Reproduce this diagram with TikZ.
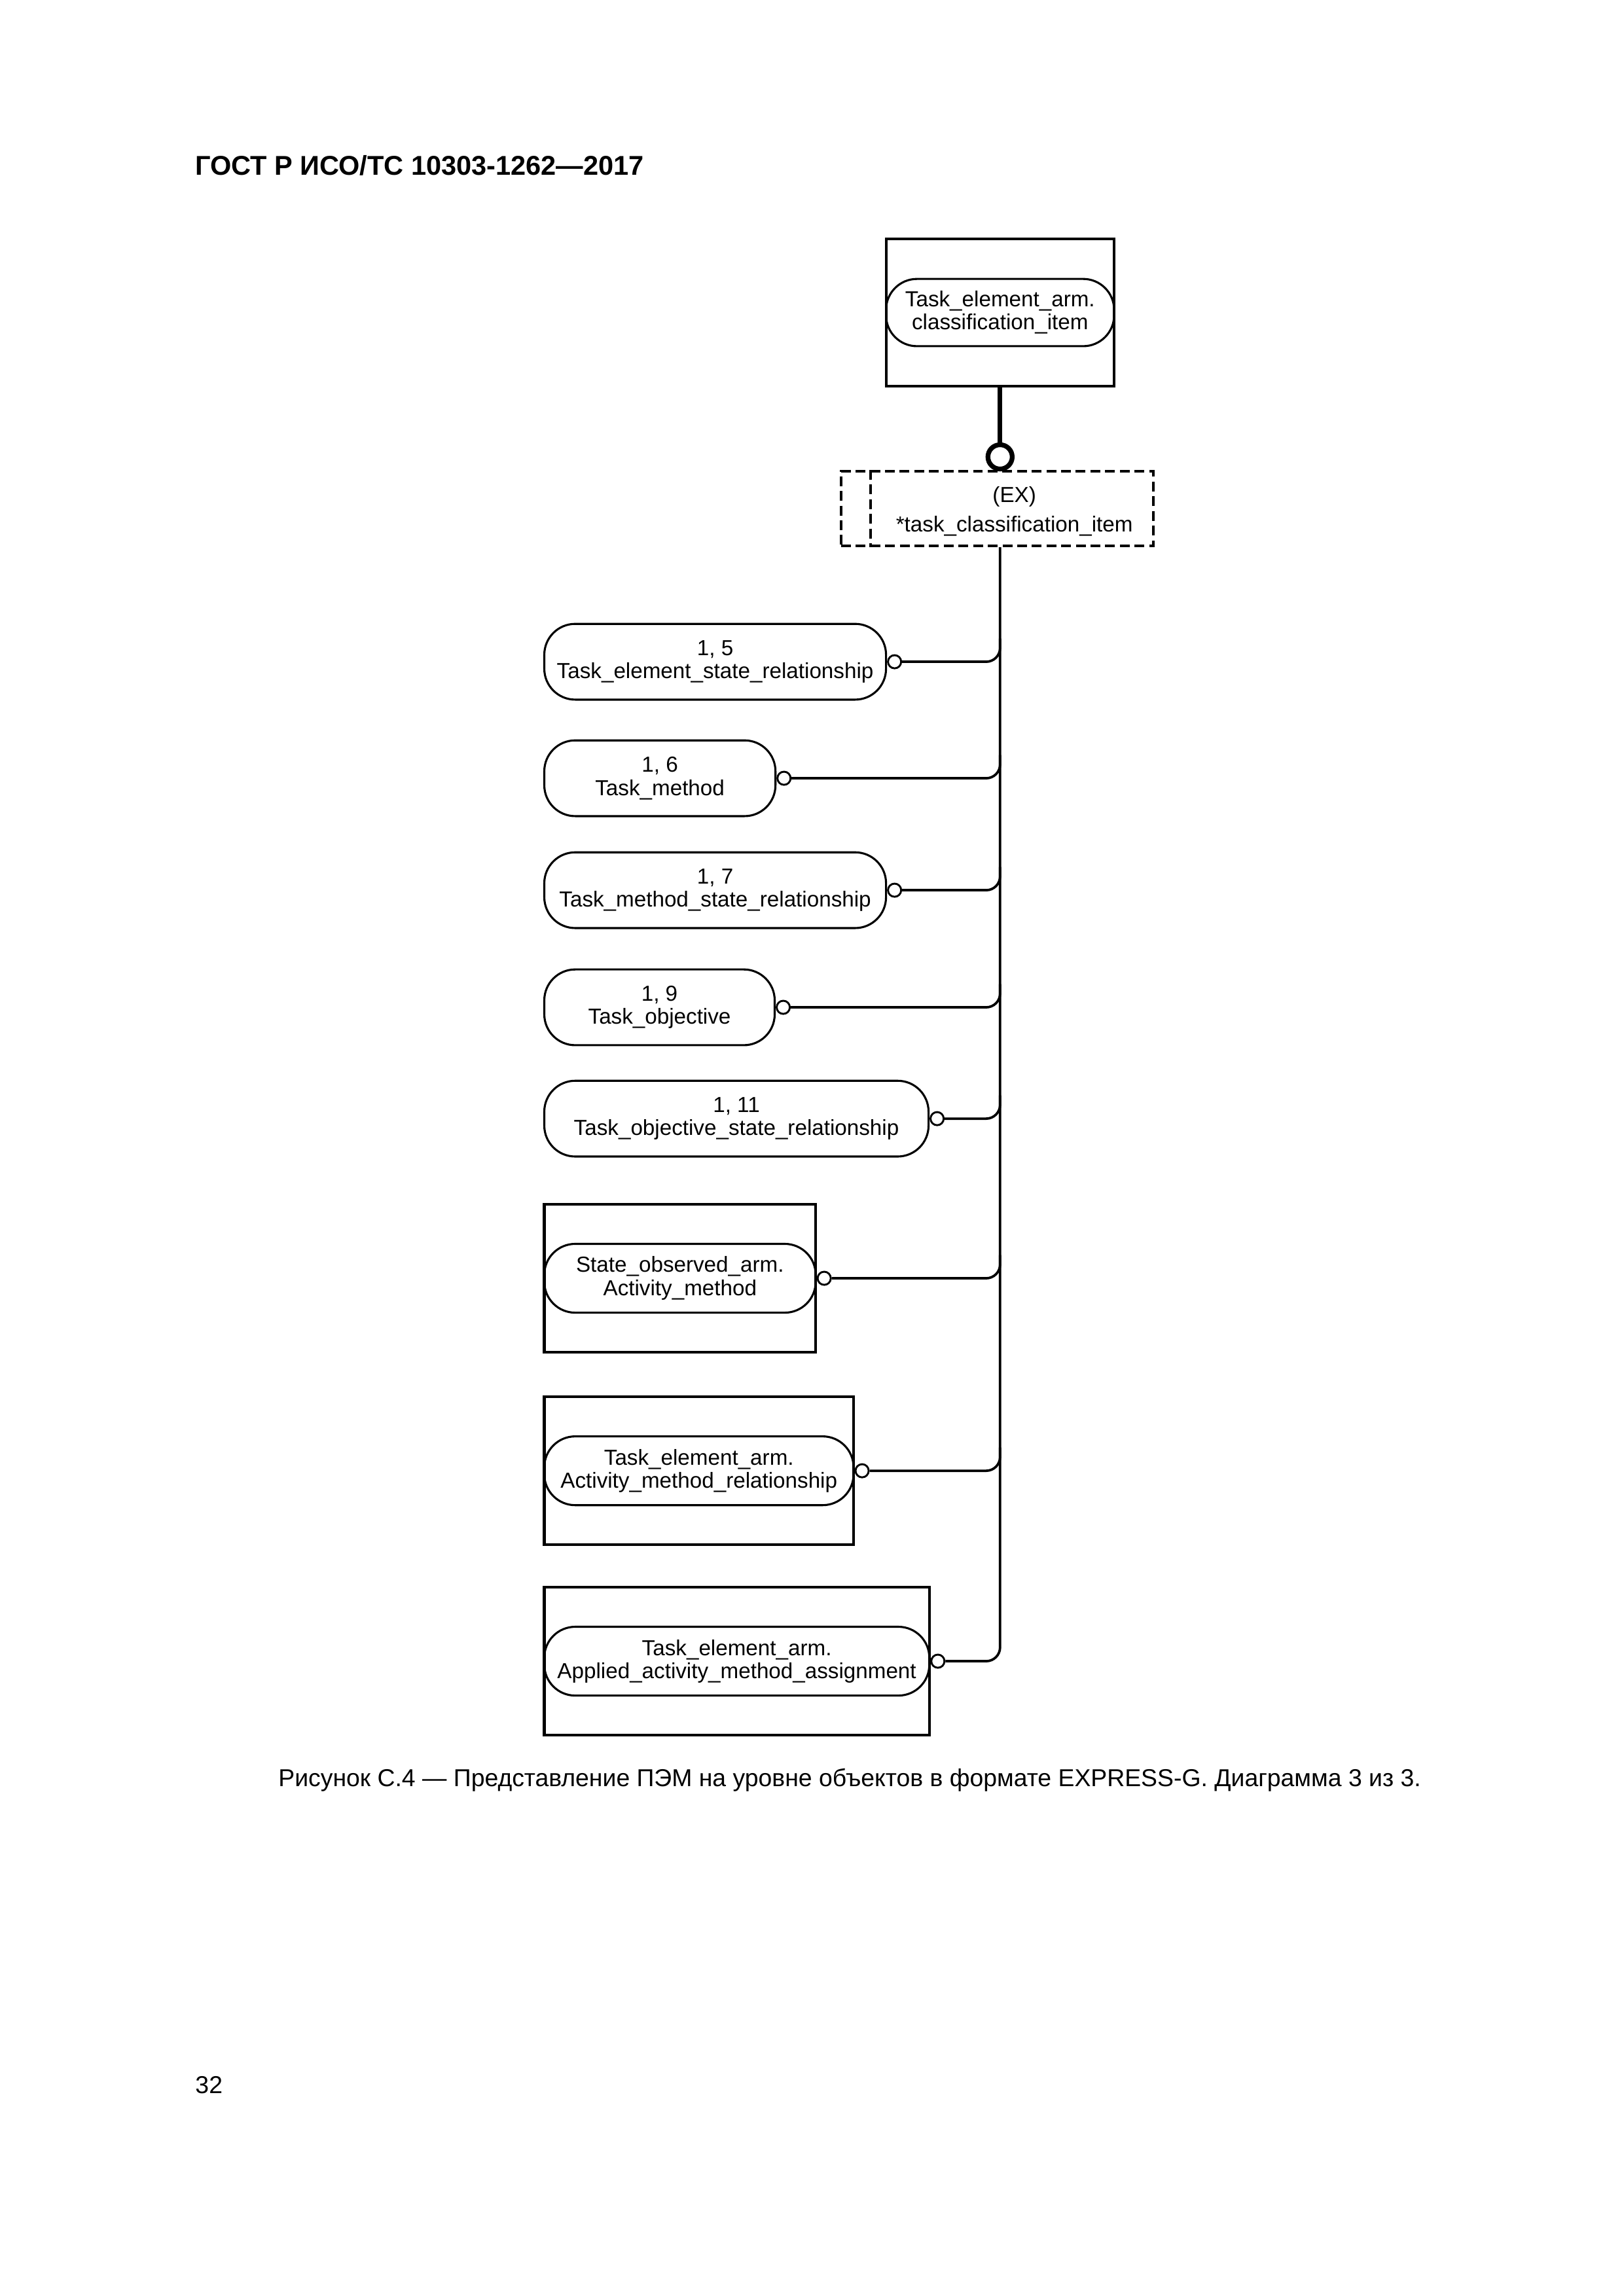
\documentclass[tikz,border=0pt]{standalone}
\usepackage{fontspec}
\setmainfont{Liberation Sans}
\usetikzlibrary{positioning,calc}

\begin{document}
\begin{tikzpicture}[
    entity/.style={draw, line width=0.75pt, rounded corners=0.4cm, align=center,
      inner sep=1pt, minimum height=0.98cm, font=\fontsize{8}{8.5}\selectfont},
    frame/.style={draw, line width=1pt, minimum height=1.91cm},
    ring/.style={draw, circle, line width=0.7pt, fill=white, inner sep=0pt, minimum size=0.17cm},
    link/.style={line width=0.9pt, rounded corners=0.18cm},
    selbox/.style={line width=1pt, dash pattern=on 3.6pt off 1.8pt}
  ]

    \useasboundingbox (0,0) rectangle (21,-29.7);

    \node[anchor=base west, inner sep=0pt, font=\bfseries\fontsize{10}{12}\selectfont] (header) at (2.52,-2.261) {ГОСТ Р ИСО/ТС 10303-1262—2017};


    \node[frame, minimum width=2.95cm] (clsbox) at (12.935,-4.043) {};

    \node[entity, minimum width=2.95cm, minimum height=0.87cm] (clsitem) at (clsbox) {Task\_element\_arm.\\classification\_item};


    \node[draw, selbox, minimum width=4.04cm, minimum height=0.965cm] (select) at (12.899,-6.579) {};

    \draw[selbox] ([xshift=0.4cm]select.north west) -- ([xshift=0.4cm]select.south west);

    \node[align=center, font=\fontsize{8}{11}\selectfont] (selname) at (13.12,-6.613) {(EX)\\*task\_classification\_item};


    \node[circle, draw, line width=1.75pt, fill=white, inner sep=0pt, minimum size=0.314cm] (exring) at (12.935,-5.91) {};

    \draw[line width=1.75pt] (clsbox.south) -- (exring.north);


    \node[entity, minimum width=4.42cm] (tesr) at (9.25,-8.56) {1, 5\\Task\_element\_state\_relationship};

    \node[ring, right=0pt of tesr] (tesr-o) {};


    \node[entity, minimum width=2.99cm] (tmeth) at (8.535,-10.067) {1, 6\\Task\_method};

    \node[ring, right=0pt of tmeth] (tmeth-o) {};


    \node[entity, minimum width=4.42cm] (tmsr) at (9.25,-11.515) {1, 7\\Task\_method\_state\_relationship};

    \node[ring, right=0pt of tmsr] (tmsr-o) {};


    \node[entity, minimum width=2.98cm] (tobj) at (8.53,-13.03) {1, 9\\Task\_objective};

    \node[ring, right=0pt of tobj] (tobj-o) {};


    \node[entity, minimum width=4.97cm] (tosr) at (9.525,-14.47) {1, 11\\Task\_objective\_state\_relationship};

    \node[ring, right=0pt of tosr] (tosr-o) {};


    \node[frame, minimum width=3.51cm] (amframe) at (8.795,-16.535) {};

    \node[entity, minimum width=3.51cm, minimum height=0.89cm] (am) at (amframe) {State\_observed\_arm.\\Activity\_method};

    \node[ring, right=0pt of am] (am-o) {};


    \node[frame, minimum width=4.0cm] (amrframe) at (9.04,-19.025) {};

    \node[entity, minimum width=4.0cm, minimum height=0.89cm] (amr) at (amrframe) {Task\_element\_arm.\\Activity\_method\_relationship};

    \node[ring, right=0pt of amr] (amr-o) {};


    \node[frame, minimum width=4.98cm] (aamaframe) at (9.53,-21.488) {};

    \node[entity, minimum width=4.98cm, minimum height=0.89cm] (aama) at (aamaframe) {Task\_element\_arm.\\Applied\_activity\_method\_assignment};

    \node[ring, right=0pt of aama] (aama-o) {};


    \draw[link] (aama-o.east) -| (clsbox.south |- select.south);

    \draw[link] (tesr-o.east) -| ($(tesr-o.east -| clsbox.south)+(0,0.3)$);

    \draw[link] (tmeth-o.east) -| ($(tmeth-o.east -| clsbox.south)+(0,0.3)$);

    \draw[link] (tmsr-o.east) -| ($(tmsr-o.east -| clsbox.south)+(0,0.3)$);

    \draw[link] (tobj-o.east) -| ($(tobj-o.east -| clsbox.south)+(0,0.3)$);

    \draw[link] (tosr-o.east) -| ($(tosr-o.east -| clsbox.south)+(0,0.3)$);

    \draw[link] (am-o.east) -| ($(am-o.east -| clsbox.south)+(0,0.3)$);

    \draw[link] (amr-o.east) -| ($(amr-o.east -| clsbox.south)+(0,0.3)$);


    \node[anchor=base, inner sep=0pt, font=\fontsize{9}{11}\selectfont] (caption) at (10.99,-23.11) {Рисунок С.4 — Представление ПЭМ на уровне объектов в формате EXPRESS-G. Диаграмма 3 из 3.};

    \node[anchor=base west, inner sep=0pt, font=\fontsize{9}{11}\selectfont] (pagenum) at (2.52,-27.08) {32};

  \end{tikzpicture}
\end{document}
